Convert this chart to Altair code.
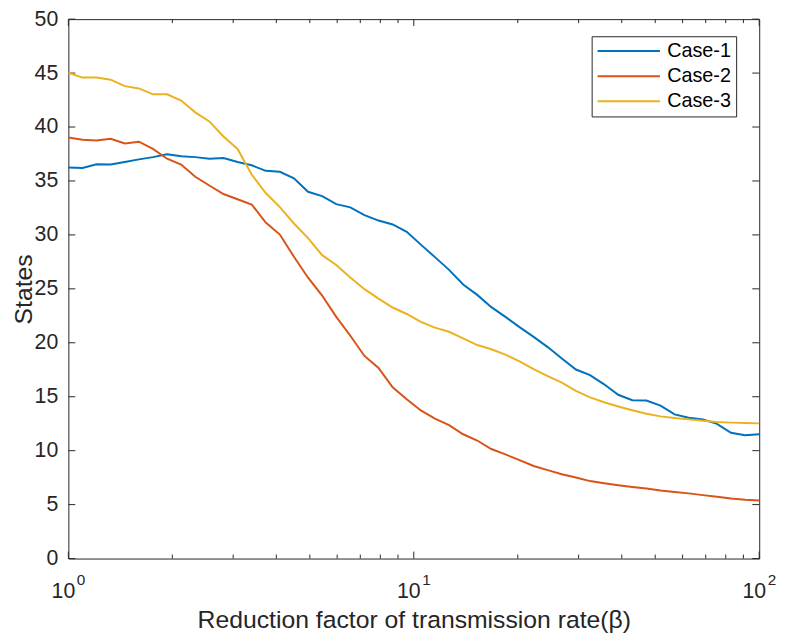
import altair as alt
import pandas as pd

# ---- data ----
x_vals = [1.0, 1.0985, 1.2068, 1.3257, 1.4563, 1.5999, 1.7575, 1.9307, 2.1210, 2.3300,
          2.5595, 2.8118, 3.0888, 3.3932, 3.7276, 4.0949, 4.4984, 4.9417, 5.4287, 5.9636,
          6.5513, 7.1969, 7.9060, 8.6851, 9.5410, 10.481, 11.514, 12.649, 13.895, 15.264,
          16.768, 18.421, 20.236, 22.230, 24.421, 26.827, 29.471, 32.375, 35.565, 39.070,
          42.919, 47.149, 51.795, 56.899, 62.506, 68.665, 75.431, 82.864, 91.030, 100.0]

case1 = [36.24, 36.21, 36.55, 36.52, 36.76, 37.0, 37.21, 37.48, 37.3, 37.21,
         37.06, 37.12, 36.76, 36.45, 35.94, 35.85, 35.24, 34.0, 33.6, 32.85,
         32.55, 31.84, 31.33, 30.97, 30.28, 29.1, 27.94, 26.76, 25.4, 24.44,
         23.3, 22.4, 21.45, 20.55, 19.6, 18.55, 17.52, 17.0, 16.15, 15.18,
         14.67, 14.64, 14.18, 13.36, 13.06, 12.9, 12.48, 11.66, 11.44, 11.53]

case2 = [39.03, 38.82, 38.76, 38.91, 38.48, 38.64, 37.97, 37.06, 36.52, 35.39,
         34.58, 33.79, 33.3, 32.82, 31.15, 30.03, 27.97, 26.03, 24.38, 22.4,
         20.65, 18.78, 17.67, 15.88, 14.76, 13.73, 12.97, 12.36, 11.52, 10.94,
         10.15, 9.65, 9.12, 8.58, 8.2, 7.82, 7.52, 7.18, 6.98, 6.8,
         6.64, 6.5, 6.3, 6.17, 6.04, 5.88, 5.72, 5.56, 5.46, 5.39]

case3 = [45.03, 44.58, 44.58, 44.39, 43.79, 43.58, 43.03, 43.03, 42.45, 41.36,
         40.52, 39.12, 37.97, 35.6, 33.88, 32.58, 31.06, 29.7, 28.12, 27.21,
         26.05, 24.97, 24.09, 23.27, 22.67, 21.93, 21.4, 21.02, 20.4, 19.79,
         19.4, 18.9, 18.27, 17.55, 16.91, 16.3, 15.55, 14.94, 14.49, 14.09,
         13.75, 13.42, 13.18, 13.03, 12.9, 12.77, 12.66, 12.6, 12.56, 12.53]

series = ["Case-1", "Case-2", "Case-3"]
colors = ["#0072BD", "#D95319", "#EDB120"]

y_ticks = [0, 5, 10, 15, 20, 25, 30, 35, 40, 45, 50]
x_major = [1, 10, 100]
x_minor = [2, 3, 4, 5, 6, 7, 8, 9, 20, 30, 40, 50, 60, 70, 80, 90]
x_label_base = ["10", "10", "10"]
x_label_exp = ["0", "1", "2"]

x_title = "Reduction factor of transmission rate(\u03b2)"
y_title = "States"

# ---- layout / style ----
W, H = 698, 545
FONT = "Liberation Sans"
AX = "#262626"

rows = []
for name, vals in zip(series, [case1, case2, case3]):
    for xv, yv in zip(x_vals, vals):
        rows.append({"x": xv, "value": yv, "case": name})
df = pd.DataFrame(rows)

xscale = alt.Scale(type="log", domain=[1, 100], nice=False)
yscale = alt.Scale(domain=[0, 50], nice=False, zero=False)

x_axis = alt.Axis(title=x_title, labels=False, ticks=False, domain=False, grid=False,
                  titleY=70, titleBaseline="alphabetic", titleFont=FONT,
                  titleFontSize=25, titleFontWeight="normal", titleColor=AX)
y_axis = alt.Axis(title=y_title, values=y_ticks, ticks=False, tickSize=0, domain=False,
                  grid=False, labelFont=FONT, labelFontSize=21.5, labelColor=AX,
                  labelPadding=10.7, titleX=-37, titleY=H / 2, titleAngle=270,
                  titleBaseline="alphabetic", titleFont=FONT, titleFontSize=25,
                  titleFontWeight="normal", titleColor=AX)


def X(field):
    return alt.X(field, type="quantitative", scale=xscale, axis=x_axis)


def Y(field):
    return alt.Y(field, type="quantitative", scale=yscale, axis=y_axis)


lines = alt.Chart(df).mark_line(strokeWidth=2).encode(
    x=X("x"),
    y=Y("value"),
    color=alt.Color(
        "case:N",
        scale=alt.Scale(domain=series, range=colors),
        legend=alt.Legend(
            title=None, orient="none", legendX=528.7, legendY=17.3,
            direction="vertical", symbolType="stroke", symbolSize=3969,
            symbolStrokeWidth=2, clipHeight=20, rowPadding=5.3, padding=5,
            labelFont=FONT, labelFontSize=20, labelColor="#000000", labelOffset=6.3,
            fillColor="white", strokeColor=AX, cornerRadius=0,
        ),
    ),
)

ydf = pd.DataFrame({"y": y_ticks})
ytick_l = alt.Chart(ydf).mark_rule(color=AX, strokeWidth=1).encode(
    y=Y("y"), x=alt.value(0), x2=alt.value(7))
ytick_r = alt.Chart(ydf).mark_rule(color=AX, strokeWidth=1).encode(
    y=Y("y"), x=alt.value(W - 7), x2=alt.value(W))

xmaj = pd.DataFrame({"t": x_major})
xmin = pd.DataFrame({"t": x_minor})
xmaj_b = alt.Chart(xmaj).mark_rule(color=AX, strokeWidth=1).encode(
    x=X("t"), y=alt.value(H - 7), y2=alt.value(H))
xmaj_t = alt.Chart(xmaj).mark_rule(color=AX, strokeWidth=1).encode(
    x=X("t"), y=alt.value(0), y2=alt.value(7))
xmin_b = alt.Chart(xmin).mark_rule(color=AX, strokeWidth=1).encode(
    x=X("t"), y=alt.value(H - 4), y2=alt.value(H))
xmin_t = alt.Chart(xmin).mark_rule(color=AX, strokeWidth=1).encode(
    x=X("t"), y=alt.value(0), y2=alt.value(4))

labdf = pd.DataFrame({"t": x_major, "base": x_label_base, "exp": x_label_exp})
lab_base = alt.Chart(labdf).mark_text(
    font=FONT, fontSize=21.5, color=AX, align="center", baseline="alphabetic", dx=-5
).encode(x=X("t"), y=alt.value(H + 39.7), text="base:N")
lab_exp = alt.Chart(labdf).mark_text(
    font=FONT, fontSize=15.5, color=AX, align="left", baseline="alphabetic", dx=8.5
).encode(x=X("t"), y=alt.value(H + 27), text="exp:N")

chart = alt.layer(
    ytick_l, ytick_r, xmaj_b, xmaj_t, xmin_b, xmin_t, lines, lab_base, lab_exp
).properties(
    width=W, height=H,
    autosize=alt.AutoSizeParams(type="none"),
    padding={"left": 61, "top": 8, "right": 21, "bottom": 75},
    background="white",
).configure_view(stroke=AX, strokeWidth=1)

chart.save("out.html", embed_options={"renderer": "svg", "actions": False})
